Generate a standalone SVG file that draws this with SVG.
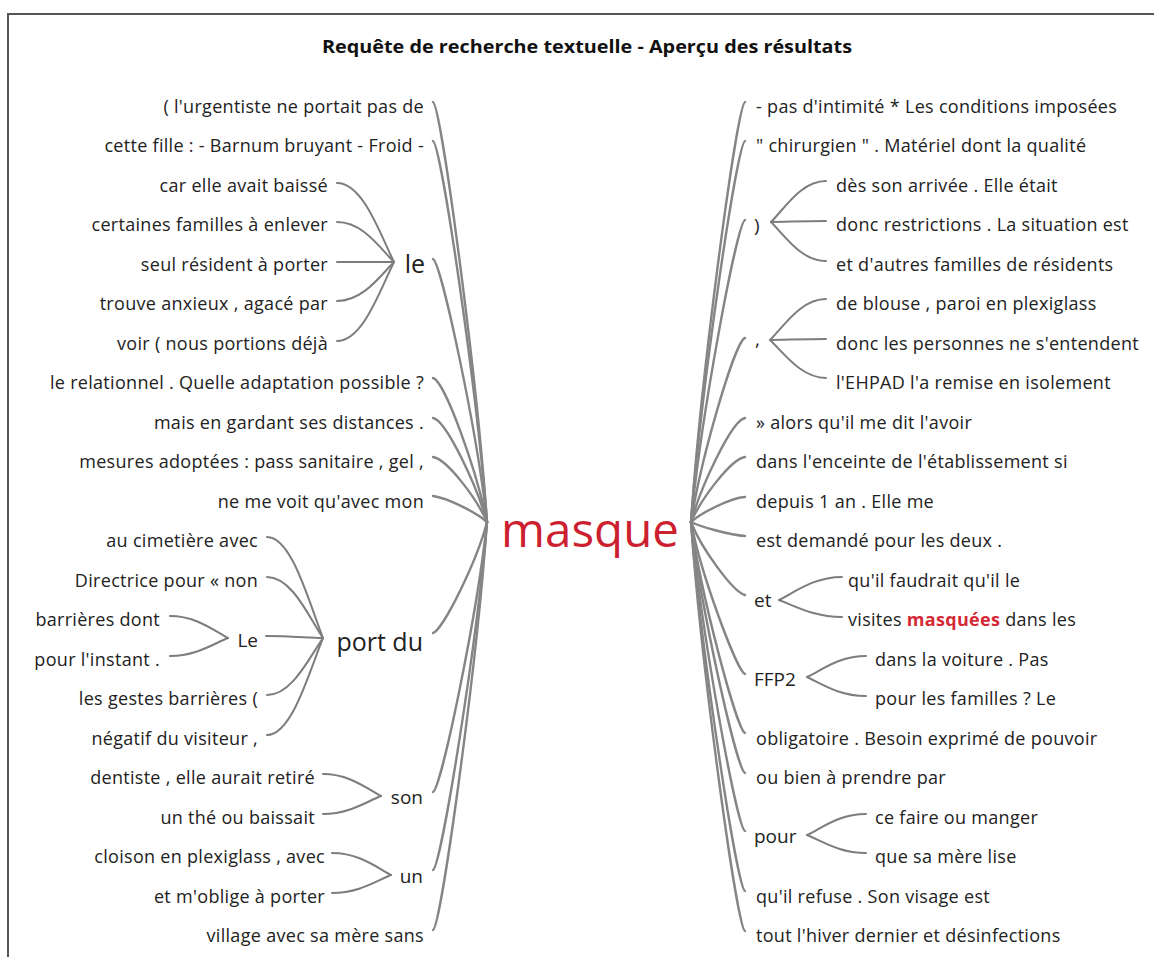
<svg xmlns="http://www.w3.org/2000/svg" width="1154" height="957" viewBox="0 0 1154 957">
<style>
text{font-family:"Open Sans","Noto Sans","DejaVu Sans",sans-serif;fill:#222;font-size:18px;letter-spacing:0.3px}
.l{text-anchor:end}
.title{font-weight:bold;font-size:18px;text-anchor:middle;fill:#111;letter-spacing:0}
.hub{font-size:47.5px;fill:#cc1f30;text-anchor:middle;letter-spacing:0}
.k{font-size:19px;letter-spacing:0}
.big{font-size:25px;letter-spacing:0}
.hl{font-weight:bold;fill:#d42a35}
#connectors path{fill:none;stroke:#7d7d7d;stroke-width:2;stroke-linecap:round}
#connectors .m{stroke-width:2.4;stroke:#858585}
</style>
<rect x="0" y="0" width="1154" height="957" fill="#fff"/>
<rect x="8" y="14" width="1160" height="960" fill="none" stroke="#555" stroke-width="2"/>
<text class="title" x="587" y="53" textLength="530" lengthAdjust="spacingAndGlyphs">Requête de recherche textuelle - Aperçu des résultats</text>

<g id="connectors">
<!-- left main -->
<path class="m" d="M433,102 C441,105 477,375 487,522"/>
<path class="m" d="M433,141 C441,144 477,389 487,522"/>
<path class="m" d="M433,259 C441,262 477,430 487,522"/>
<path class="m" d="M433,378 C445,381 477,472 487,522"/>
<path class="m" d="M433,418 C446,420 477,486 487,522"/>
<path class="m" d="M433,457 C447,459 477,499 487,522"/>
<path class="m" d="M433,496 C448,498 477,513 487,522"/>
<path class="m" d="M433,633 C443,630 477,561 487,522"/>
<path class="m" d="M433,792 C441,789 477,616 487,522"/>
<path class="m" d="M433,870 C441,867 477,644 487,522"/>
<path class="m" d="M433,930 C441,927 477,665 487,522"/>
<!-- le -->
<path d="M337,183 C363,183 380,234 394,262"/>
<path d="M337,222 C363,222 380,248 394,262"/>
<path d="M337,262 C363,262 380,262 394,262"/>
<path d="M337,301 C363,301 380,276 394,262"/>
<path d="M337,341 C363,341 380,290 394,262"/>
<!-- port du -->
<path d="M267,537 C292,537 309,603 323,638"/>
<path d="M267,577 C292,577 309,617 323,638"/>
<path d="M266,636 C292,636 309,638 323,638"/>
<path d="M267,695 C292,695 309,658 323,638"/>
<path d="M267,735 C292,735 309,672 323,638"/>
<!-- Le -->
<path d="M170,616 C196,616 213,630 228,638"/>
<path d="M170,656 C196,656 213,644 228,638"/>
<!-- son -->
<path d="M323,774 C349,774 366,788 381,796"/>
<path d="M323,814 C349,814 366,802 381,796"/>
<!-- un -->
<path d="M332,853 C359,853 376,867 391,875"/>
<path d="M332,893 C359,893 376,881 391,875"/>
<!-- right main -->
<path class="m" d="M745,102 C737,105 701,375 691,522"/>
<path class="m" d="M745,141 C737,144 701,389 691,522"/>
<path class="m" d="M745,220 C737,223 701,416 691,522"/>
<path class="m" d="M745,338 C735,341 701,458 691,522"/>
<path class="m" d="M745,418 C732,420 701,486 691,522"/>
<path class="m" d="M745,457 C731,459 701,499 691,522"/>
<path class="m" d="M745,497 C730,498 701,513 691,522"/>
<path class="m" d="M745,536 C730,535 701,527 691,522"/>
<path class="m" d="M745,595 C733,592 701,548 691,522"/>
<path class="m" d="M745,674 C737,671 701,575 691,522"/>
<path class="m" d="M745,733 C737,730 701,596 691,522"/>
<path class="m" d="M745,773 C737,770 701,610 691,522"/>
<path class="m" d="M745,831 C737,828 701,630 691,522"/>
<path class="m" d="M745,891 C737,888 701,651 691,522"/>
<path class="m" d="M745,931 C737,928 701,665 691,522"/>
<!-- ) -->
<path d="M826,181 C801,181 785,208 771,222"/>
<path d="M826,221 C801,221 785,222 771,222"/>
<path d="M826,261 C801,261 785,236 771,222"/>
<!-- , -->
<path d="M826,299 C801,299 784,326 770,340"/>
<path d="M826,339 C801,339 784,340 770,340"/>
<path d="M826,378 C801,378 784,353 770,340"/>
<!-- et -->
<path d="M842,577 C814,577 795,592 779,600"/>
<path d="M842,617 C814,617 795,606 779,600"/>
<!-- FFP2 -->
<path d="M866,656 C839,656 822,670 807,677"/>
<path d="M866,696 C839,696 822,684 807,677"/>
<!-- pour -->
<path d="M866,814 C839,814 822,828 807,835"/>
<path d="M866,853 C839,853 822,841 807,835"/>
</g>

<g id="n-masque"><text class="hub" x="590" y="547">masque</text></g>

<!-- left side -->
<g id="nl1"><text class="l" x="424" y="113">( l'urgentiste ne portait pas de</text></g>
<g id="nl2"><text class="l" x="424" y="152">cette fille : - Barnum bruyant - Froid -</text></g>
<g id="nl-le"><text class="l big" x="425" y="273">le</text></g>
<g id="nl3"><text class="l" x="328" y="192">car elle avait baissé</text></g>
<g id="nl4"><text class="l" x="328" y="231">certaines familles à enlever</text></g>
<g id="nl5"><text class="l" x="328" y="271">seul résident à porter</text></g>
<g id="nl6"><text class="l" x="328" y="310">trouve anxieux , agacé par</text></g>
<g id="nl7"><text class="l" x="328" y="350">voir ( nous portions déjà</text></g>
<g id="nl8"><text class="l" x="424" y="389">le relationnel . Quelle adaptation possible ?</text></g>
<g id="nl9"><text class="l" x="424" y="429">mais en gardant ses distances .</text></g>
<g id="nl10"><text class="l" x="424" y="468">mesures adoptées : pass sanitaire , gel ,</text></g>
<g id="nl11"><text class="l" x="424" y="508">ne me voit qu'avec mon</text></g>
<g id="nl-portdu"><text class="l big" x="423" y="651">port du</text></g>
<g id="nl12"><text class="l" x="258" y="547">au cimetière avec</text></g>
<g id="nl13"><text class="l" x="258" y="587">Directrice pour « non</text></g>
<g id="nl-Le"><text class="l k" x="258" y="647">Le</text></g>
<g id="nl14"><text class="l" x="160" y="626">barrières dont</text></g>
<g id="nl15"><text class="l" x="160" y="666">pour l'instant .</text></g>
<g id="nl16"><text class="l" x="258" y="705">les gestes barrières (</text></g>
<g id="nl17"><text class="l" x="258" y="745">négatif du visiteur ,</text></g>
<g id="nl-son"><text class="l k" x="423" y="804">son</text></g>
<g id="nl18"><text class="l" x="315" y="784">dentiste , elle aurait retiré</text></g>
<g id="nl19"><text class="l" x="315" y="824">un thé ou baissait</text></g>
<g id="nl-un"><text class="l k" x="423" y="883">un</text></g>
<g id="nl20"><text class="l" x="325" y="863">cloison en plexiglass , avec</text></g>
<g id="nl21"><text class="l" x="325" y="903">et m'oblige à porter</text></g>
<g id="nl22"><text class="l" x="424" y="942">village avec sa mère sans</text></g>

<!-- right side -->
<g id="nr1"><text x="756" y="113">- pas d'intimité * Les conditions imposées</text></g>
<g id="nr2"><text x="756" y="152">" chirurgien " . Matériel dont la qualité</text></g>
<g id="nr-paren"><text class="k" x="754" y="232">)</text></g>
<g id="nr3"><text x="836" y="192">dès son arrivée . Elle était</text></g>
<g id="nr4"><text x="836" y="231">donc restrictions . La situation est</text></g>
<g id="nr5"><text x="836" y="271">et d'autres familles de résidents</text></g>
<g id="nr-comma"><text class="k" x="755" y="346">,</text></g>
<g id="nr6"><text x="836" y="310">de blouse , paroi en plexiglass</text></g>
<g id="nr7"><text x="836" y="350">donc les personnes ne s'entendent</text></g>
<g id="nr8"><text x="836" y="389">l'EHPAD l'a remise en isolement</text></g>
<g id="nr9"><text x="756" y="429">» alors qu'il me dit l'avoir</text></g>
<g id="nr10"><text x="756" y="468">dans l'enceinte de l'établissement si</text></g>
<g id="nr11"><text x="756" y="508">depuis 1 an . Elle me</text></g>
<g id="nr12"><text x="756" y="547">est demandé pour les deux .</text></g>
<g id="nr-et"><text class="k" x="754" y="607">et</text></g>
<g id="nr13"><text x="848" y="587">qu'il faudrait qu'il le</text></g>
<g id="nr14"><text x="848" y="626">visites <tspan class="hl">masquées</tspan> dans les</text></g>
<g id="nr-ffp2"><text class="k" x="754" y="686">FFP2</text></g>
<g id="nr15"><text x="875" y="666">dans la voiture . Pas</text></g>
<g id="nr16"><text x="875" y="705">pour les familles ? Le</text></g>
<g id="nr17"><text x="756" y="745">obligatoire . Besoin exprimé de pouvoir</text></g>
<g id="nr18"><text x="756" y="784">ou bien à prendre par</text></g>
<g id="nr-pour"><text class="k" x="754" y="843">pour</text></g>
<g id="nr19"><text x="875" y="824">ce faire ou manger</text></g>
<g id="nr20"><text x="875" y="863">que sa mère lise</text></g>
<g id="nr21"><text x="756" y="903">qu'il refuse . Son visage est</text></g>
<g id="nr22"><text x="756" y="942">tout l'hiver dernier et désinfections</text></g>
</svg>
